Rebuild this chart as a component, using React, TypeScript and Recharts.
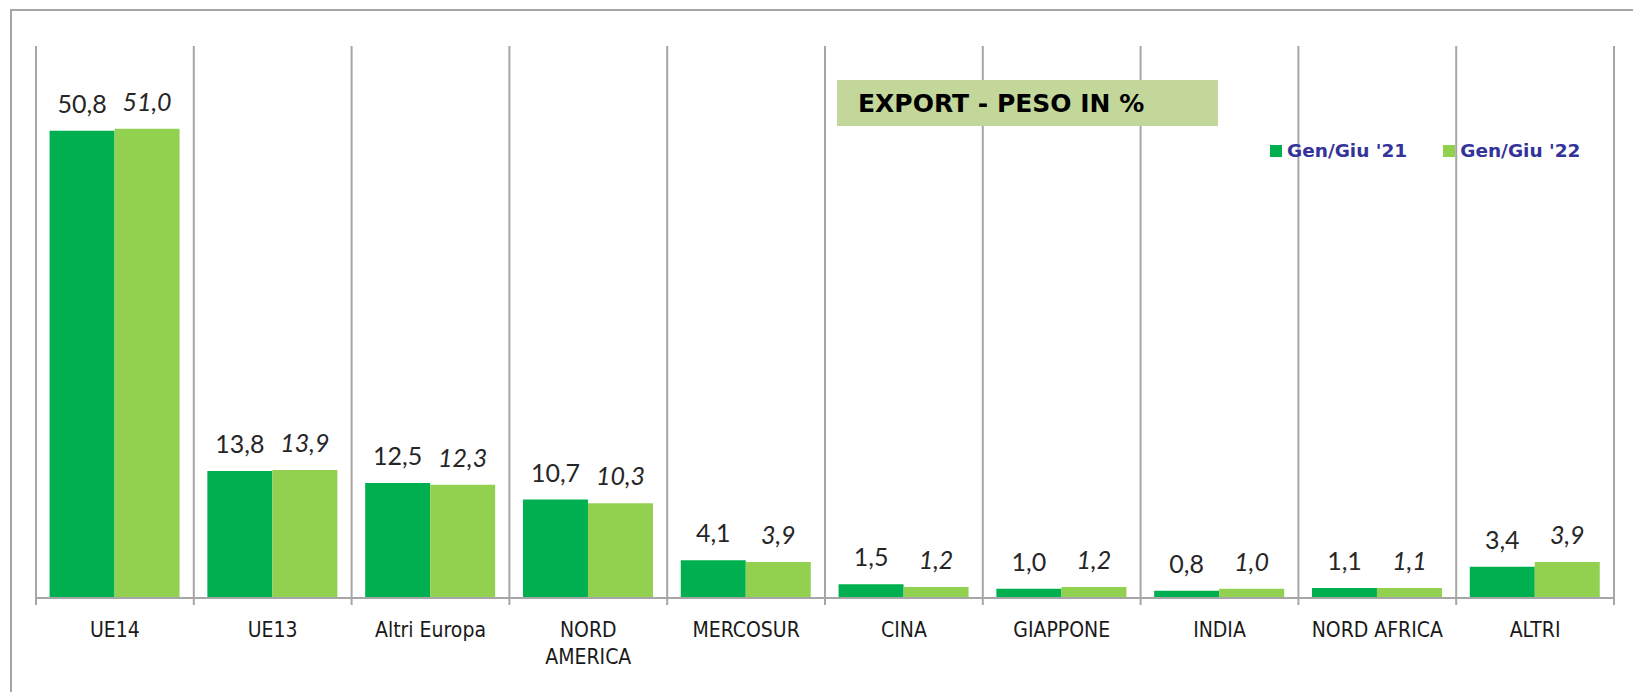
import React from 'react';
import { BarChart, Bar, XAxis, YAxis, CartesianGrid, LabelList, Legend } from 'recharts';

const categories = ['UE14', 'UE13', 'Altri Europa', 'NORD\nAMERICA', 'MERCOSUR', 'CINA', 'GIAPPONE', 'INDIA', 'NORD AFRICA', 'ALTRI'];
const gen21 = [50.8, 13.8, 12.5, 10.7, 4.1, 1.5, 1.0, 0.8, 1.1, 3.4];
const gen22 = [51.0, 13.9, 12.3, 10.3, 3.9, 1.2, 1.2, 1.0, 1.1, 3.9];
const seriesNames = ["Gen/Giu '21", "Gen/Giu '22"];
const seriesColors = ['#00b050', '#92d050'];
const yDomain = [0, 60];
const titleText = 'EXPORT - PESO IN %';

const data = categories.map((c, i) => ({ cat: c, a: gen21[i], b: gen22[i] }));

const W = 1633;
const H = 692;
const margin = { top: 46, left: 36, right: 19, bottom: 34 };
const X_AXIS_H = 60;
const GRID = '#a6a6a6';
const band = (W - margin.left - margin.right) / categories.length;

const fmt = (v: any) => Number(v).toFixed(1).replace('.', ',');

const CatTick = (props: any) => {
  const { x, y, payload, index } = props;
  const lines = String(payload.value).split('\n');
  return (
    <g>
      <line x1={x - band / 2} x2={x - band / 2} y1={y} y2={y + 7} stroke={GRID} strokeWidth={2} />
      {index === categories.length - 1 && (
        <line x1={x + band / 2} x2={x + band / 2} y1={y} y2={y + 7} stroke={GRID} strokeWidth={2} />
      )}
      <text x={x} y={y + 39} textAnchor="middle" fontFamily="'DejaVu Sans Condensed', 'DejaVu Sans'" fontSize={21} fill="#1a1a1a">
        {lines.map((l, i) => (
          <tspan key={i} x={x} dy={i === 0 ? 0 : 27}>{l}</tspan>
        ))}
      </text>
    </g>
  );
};

const LegendContent = () => (
  <div style={{ display: 'flex', alignItems: 'center', fontFamily: "'DejaVu Sans'", fontWeight: 700, fontSize: 18.5, color: '#333399', whiteSpace: 'nowrap' }}>
    {seriesNames.map((n, i) => (
      <div key={n} style={{ display: 'flex', alignItems: 'center', marginRight: i === 0 ? 36 : 0 }}>
        <span style={{ display: 'inline-block', width: 12, height: 12, background: seriesColors[i], marginRight: 5 }} />
        <span>{n}</span>
      </div>
    ))}
  </div>
);

export default function App() {
  return (
    <div style={{ position: 'absolute', left: 0, top: 0, width: W, height: H, background: '#fff', overflow: 'hidden' }}>
      <div style={{ position: 'absolute', left: 10, top: 9, right: -10, bottom: -10, borderLeft: `2px solid ${GRID}`, borderTop: `2px solid ${GRID}` }} />
      <BarChart width={W} height={H} data={data} margin={margin} barCategoryGap="8.6%" barGap={0}>
        <CartesianGrid
          horizontal={false}
          vertical={true}
          stroke={GRID}
          strokeWidth={2}
          verticalCoordinatesGenerator={({ offset }: any) =>
            categories.map((_, i) => offset.left + (i * offset.width) / categories.length).concat([offset.left + offset.width])
          }
        />
        <XAxis
          dataKey="cat"
          height={X_AXIS_H}
          interval={0}
          tickLine={false}
          tickSize={0}
          tickMargin={0}
          axisLine={{ stroke: GRID, strokeWidth: 2 }}
          tick={<CatTick />}
        />
        <YAxis hide domain={yDomain} />
        <Legend layout="horizontal" verticalAlign="middle" align="center" wrapperStyle={{ top: 140, left: 1270, width: 'auto' }} content={<LegendContent />} />
        <Bar dataKey="a" name={seriesNames[0]} fill={seriesColors[0]} isAnimationActive={false}>
          <LabelList dataKey="a" position="top" offset={18} formatter={fmt} fill="#262626" fontSize={25} fontFamily="Lato" />
        </Bar>
        <Bar dataKey="b" name={seriesNames[1]} fill={seriesColors[1]} isAnimationActive={false}>
          <LabelList dataKey="b" position="top" offset={18} formatter={fmt} fill="#262626" fontSize={25} fontFamily="Lato" fontStyle="italic" />
        </Bar>
      </BarChart>
      <div style={{ position: 'absolute', left: 837, top: 80, width: 381, height: 46, background: '#c4d79b', boxSizing: 'border-box', paddingLeft: 21, display: 'flex', alignItems: 'center', fontFamily: "'DejaVu Sans'", fontWeight: 700, fontSize: 25, color: '#000' }}>
        {titleText}
      </div>
    </div>
  );
}
